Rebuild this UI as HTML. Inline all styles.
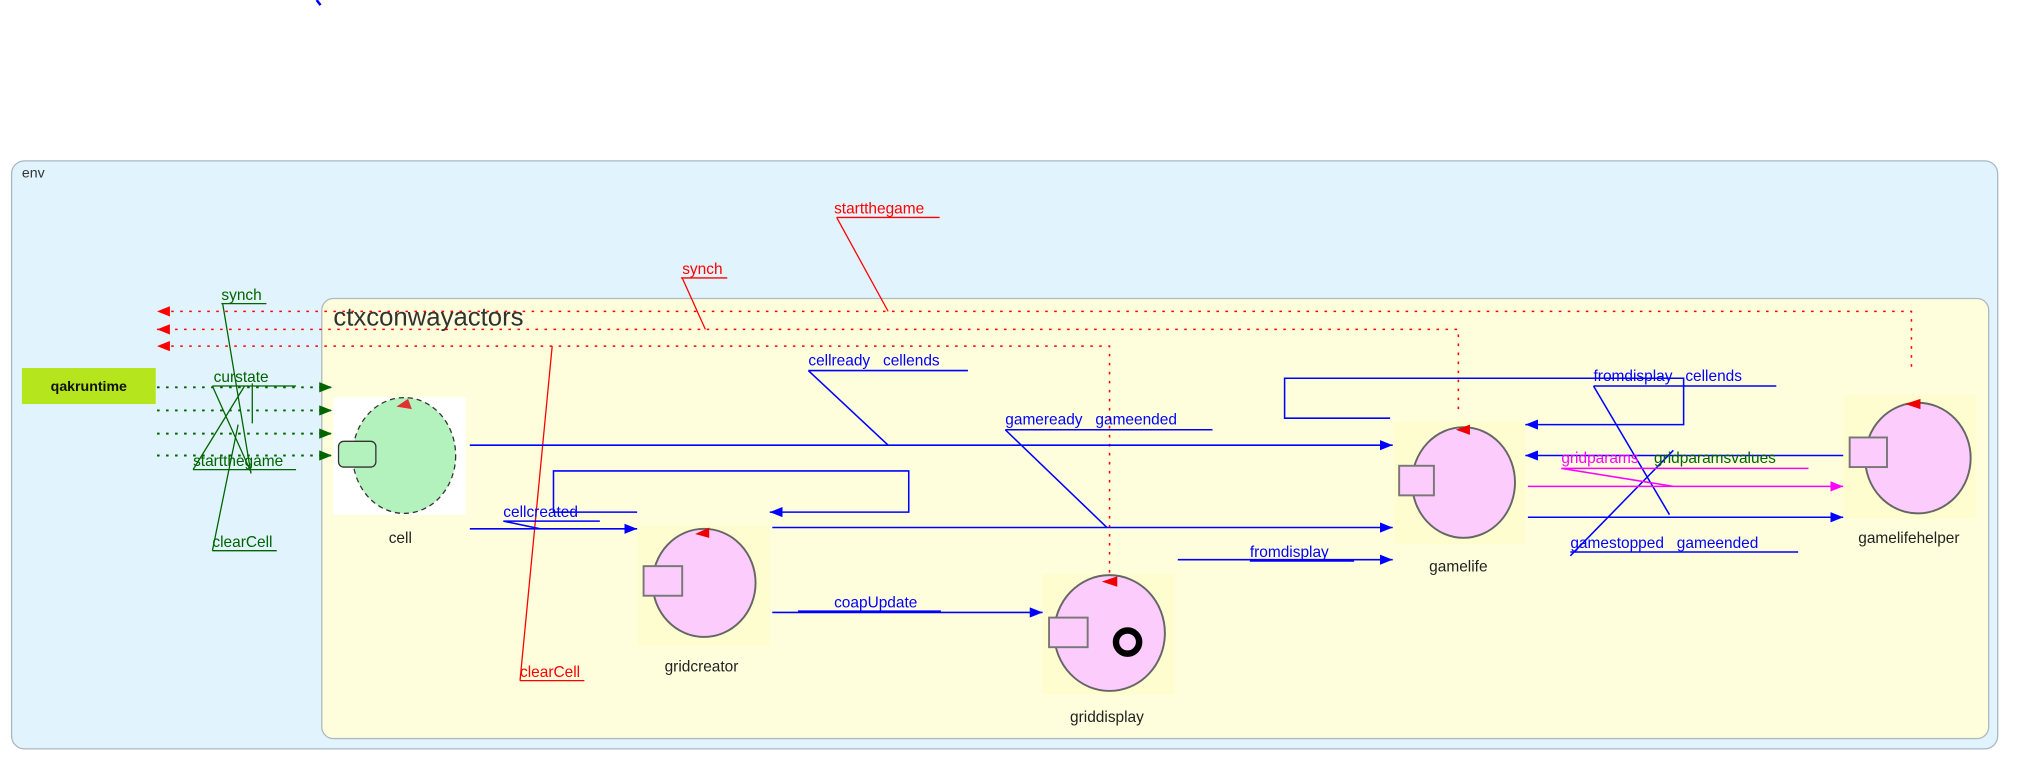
<!DOCTYPE html>
<html><head><meta charset="utf-8"><style>html,body{margin:0;padding:0;background:#fff}svg{display:block}text{font-family:"Liberation Sans",sans-serif;white-space:pre}</style></head>
<body>
<svg width="2017" height="763" viewBox="0 0 1567 593" preserveAspectRatio="none" xmlns="http://www.w3.org/2000/svg">
<defs>
<marker id="ab" markerWidth="10" markerHeight="8" refX="10" refY="4" orient="auto" markerUnits="userSpaceOnUse"><path d="M0,0L10,4L0,8z" fill="#0000ff"/></marker>
<marker id="am" markerWidth="10" markerHeight="8" refX="10" refY="4" orient="auto" markerUnits="userSpaceOnUse"><path d="M0,0L10,4L0,8z" fill="#ff00ff"/></marker>
<marker id="ag" markerWidth="10" markerHeight="8" refX="10" refY="4" orient="auto" markerUnits="userSpaceOnUse"><path d="M0,0L10,4L0,8z" fill="#006400"/></marker>
<marker id="ar" markerWidth="10" markerHeight="8" refX="10" refY="4" orient="auto" markerUnits="userSpaceOnUse"><path d="M0,0L10,4L0,8z" fill="#ff0000"/></marker>
</defs>
<path d="M246,0 L249,4" stroke="#00f" stroke-width="2"/>
<rect x="9" y="125" width="1543" height="457" rx="10" fill="#e1f3fc" stroke="#a9b7c4"/>
<text x="17" y="138" font-size="11" fill="#333">env</text>
<rect x="250" y="232" width="1295" height="342" rx="9" fill="#fefedd" stroke="#b0b8c0"/>
<text x="259" y="253" font-size="20" fill="#333">ctxconwayactors</text>

<rect x="17" y="286" width="104" height="28" fill="#b5e61d"/>
<text x="69" y="304" font-size="11" font-weight="bold" text-anchor="middle" fill="#111">qakruntime</text>

<g stroke="#006400" stroke-width="1.5" stroke-dasharray="2,5" fill="none">
<path d="M122,301H258" marker-end="url(#ag)"/><path d="M122,319H258" marker-end="url(#ag)"/>
<path d="M122,337H258" marker-end="url(#ag)"/><path d="M122,354H258" marker-end="url(#ag)"/>
</g>
<g stroke="#006400" stroke-width="1" fill="none">
<path d="M172,236H207M173,236L195,368"/><path d="M165,300H230M165,300L195,367M190,300L150,365"/>
<path d="M150,365H230M196,298L196,329"/><path d="M165,428H215M165,428L185,330"/>
</g>
<g font-size="12" fill="#006400">
<text x="172" y="233">synch</text><text x="166" y="297">curstate</text><text x="150" y="362">startthegame</text><text x="165" y="425">clearCell</text>
</g>

<g stroke="#ff0000" stroke-width="1.2" stroke-dasharray="2,5" fill="none">
<path d="M1485,285V242H122" marker-end="url(#ar)"/>
<path d="M1133,318V256H122" marker-end="url(#ar)"/>
<path d="M862,445V269H122" marker-end="url(#ar)"/>
</g>
<g stroke="#ff0000" stroke-width="1" fill="none">
<path d="M650,169H730M650,169L690,242"/><path d="M529,216H565M530,216L548,256"/><path d="M404,529H454M404,529L429,269"/>
</g>
<g font-size="12" fill="#ff0000">
<text x="648" y="166">startthegame</text><text x="530" y="213">synch</text><text x="404" y="526">clearCell</text>
</g>

<rect x="259" y="309" width="103" height="91" fill="#fff"/>
<ellipse cx="314" cy="354" rx="40" ry="45" fill="#b3f2bd" stroke="#333" stroke-dasharray="4,3"/>
<rect x="263" y="343" width="29" height="20" rx="4" fill="#b3f2bd" stroke="#333"/>
<path d="M308,316L317,310L320,318z" fill="#e03030"/>
<text x="311" y="422" font-size="12" text-anchor="middle" fill="#222">cell</text>

<g>
<rect x="495" y="408" width="103" height="94" fill="#fdfdd0"/>
<ellipse cx="547" cy="453" rx="40" ry="42" fill="#fccdfc" stroke="#666" stroke-width="1.5"/>
<rect x="500" y="440" width="30" height="23" fill="#fccdfc" stroke="#777" stroke-width="1.5"/>
<path d="M540,415L551,410L551,418z" fill="#e00"/>
<text x="545" y="522" font-size="12" text-anchor="middle" fill="#222">gridcreator</text>
</g>
<g>
<rect x="810" y="446" width="103" height="94" fill="#fdfdd0"/>
<ellipse cx="862" cy="492" rx="43" ry="45" fill="#fccdfc" stroke="#666" stroke-width="1.5"/>
<rect x="815" y="480" width="30" height="23" fill="#fccdfc" stroke="#777" stroke-width="1.5"/>
<circle cx="876" cy="499" r="9" fill="none" stroke="#000" stroke-width="5"/>
<path d="M856,452L868,448L868,456z" fill="#e00"/>
<text x="860" y="561" font-size="12" text-anchor="middle" fill="#222">griddisplay</text>
</g>
<g>
<rect x="1083" y="328" width="102" height="95" fill="#fdfdd0"/>
<ellipse cx="1137" cy="375" rx="40" ry="43" fill="#fccdfc" stroke="#666" stroke-width="1.5"/>
<rect x="1087" y="362" width="27" height="23" fill="#fccdfc" stroke="#777" stroke-width="1.5"/>
<path d="M1131,334L1142,330L1142,338z" fill="#e00"/>
<text x="1133" y="444" font-size="12" text-anchor="middle" fill="#222">gamelife</text>
</g>
<g>
<rect x="1432" y="307" width="103" height="96" fill="#fdfdd0"/>
<ellipse cx="1490" cy="356" rx="41" ry="43" fill="#fccdfc" stroke="#666" stroke-width="1.5"/>
<rect x="1437" y="340" width="29" height="23" fill="#fccdfc" stroke="#777" stroke-width="1.5"/>
<path d="M1480,314L1492,310L1492,318z" fill="#e00"/>
<text x="1483" y="422" font-size="12" text-anchor="middle" fill="#222">gamelifehelper</text>
</g>

<g stroke="#0000ff" stroke-width="1.2" fill="none">
<path d="M365,346H1082" marker-end="url(#ab)"/>
<path d="M628,288H752M628,288L690,346"/>
<path d="M781,334H942M781,334L860,410"/>
<path d="M600,410H1082" marker-end="url(#ab)"/>
<path d="M365,411H495" marker-end="url(#ab)"/>
<path d="M391,405H466M391,405L420,411"/>
<path d="M495,398H430V366H706V398H598" marker-end="url(#ab)"/>
<path d="M600,476H810" marker-end="url(#ab)"/>
<path d="M620,475H731"/>
<path d="M915,435H1082" marker-end="url(#ab)"/>
<path d="M971,436H1052"/>
<path d="M1080,325H998V294H1308V330H1185" marker-end="url(#ab)"/>
<path d="M1238,300H1380M1238,300L1297,400"/>
<path d="M1432,354H1185" marker-end="url(#ab)"/>
<path d="M1187,402H1432" marker-end="url(#ab)"/>
<path d="M1220,429H1397M1220,432L1300,350"/>
</g>
<g stroke="#ff00ff" stroke-width="1.2" fill="none">
<path d="M1187,378H1432" marker-end="url(#am)"/>
<path d="M1213,364H1405M1213,364L1300,378"/>
</g>
<g font-size="12" fill="#0000ff">
<text x="628" y="284">cellready   cellends</text>
<text x="781" y="330">gameready   gameended</text>
<text x="391" y="402">cellcreated</text>
<text x="648" y="472">coapUpdate</text>
<text x="971" y="433">fromdisplay</text>
<text x="1238" y="296">fromdisplay   cellends</text>
<text x="1220" y="426">gamestopped   gameended</text>
</g>
<text x="1213" y="360" font-size="12" fill="#ff00ff">gridparams</text>
<text x="1285" y="360" font-size="12" fill="#006400">gridparamsvalues</text>
</svg>
</body></html>
